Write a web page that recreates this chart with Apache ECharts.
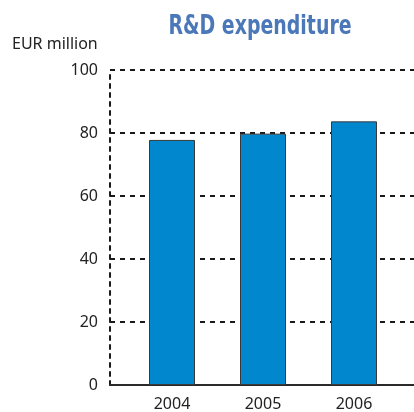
<!DOCTYPE html>
<html>
<head>
<meta charset="utf-8">
<script src="https://cdn.jsdelivr.net/npm/echarts@6/dist/echarts.min.js"></script>
<style>
  html, body { margin: 0; padding: 0; background: #fff; }
  #chart { width: 414px; height: 412px; }
</style>
</head>
<body>
<div id="chart"></div>
<script>
// R&D expenditure, EUR million
const years = ['2004', '2005', '2006'];
const rdExpenditure = [77.8, 79.8, 83.7];
const yTicks = [0, 20, 40, 60, 80, 100];

const labelFont = "'Noto Sans', 'Open Sans', sans-serif";
const dotted = { color: '#1a1a1a', width: 2, type: [5, 5] };

const chart = echarts.init(document.getElementById('chart'), null, { renderer: 'canvas' });

chart.setOption({
  animation: false,
  backgroundColor: '#ffffff',
  graphic: [
    {
      // condensed bold heading, narrowed horizontally
      type: 'text',
      x: 260,
      y: 14,
      scaleX: 0.81,
      style: {
        text: 'R&D expenditure',
        align: 'center',
        verticalAlign: 'top',
        fontFamily: "'DejaVu Sans Condensed', 'DejaVu Sans', sans-serif",
        fontWeight: 'bold',
        fontSize: 26,
        fill: '#4a78b8'
      }
    },
    {
      type: 'text',
      x: 12,
      y: 36,
      style: {
        text: 'EUR million',
        verticalAlign: 'top',
        fontFamily: labelFont,
        fontSize: 16,
        fill: '#222'
      }
    }
  ],
  grid: [
    // frame: y axis, gridlines, baseline
    { left: 110, right: -60, top: 70, bottom: 27 },
    // bars and year labels
    { left: 126.5, right: 14.5, top: 70, bottom: 27 }
  ],
  xAxis: [
    {
      gridIndex: 0, type: 'value', min: 0, max: 1,
      axisLine: { show: true, onZero: false, lineStyle: { color: '#2a2a2a', width: 2 } },
      axisTick: { show: false }, axisLabel: { show: false }, splitLine: { show: false }
    },
    {
      gridIndex: 1, type: 'category', data: years,
      axisLine: { show: false }, axisTick: { show: false },
      axisLabel: { margin: 11, fontFamily: labelFont, fontSize: 16, color: '#222' }
    }
  ],
  yAxis: [
    {
      gridIndex: 0, type: 'value', min: yTicks[0], max: yTicks[yTicks.length - 1], interval: 20,
      axisLine: { show: true, lineStyle: { color: '#1a1a1a', width: 2, type: [4, 5] } },
      axisTick: { show: false },
      axisLabel: { margin: 12, fontFamily: labelFont, fontSize: 16, color: '#222' },
      splitLine: { show: true, lineStyle: dotted }
    },
    {
      gridIndex: 1, type: 'value', min: 0, max: 100, show: false
    }
  ],
  series: [
    {
      type: 'bar',
      xAxisIndex: 1,
      yAxisIndex: 1,
      data: rdExpenditure,
      barWidth: 46,
      itemStyle: { color: '#0087cd', borderColor: '#3a3a3a', borderWidth: 1 }
    }
  ]
});
</script>
</body>
</html>
